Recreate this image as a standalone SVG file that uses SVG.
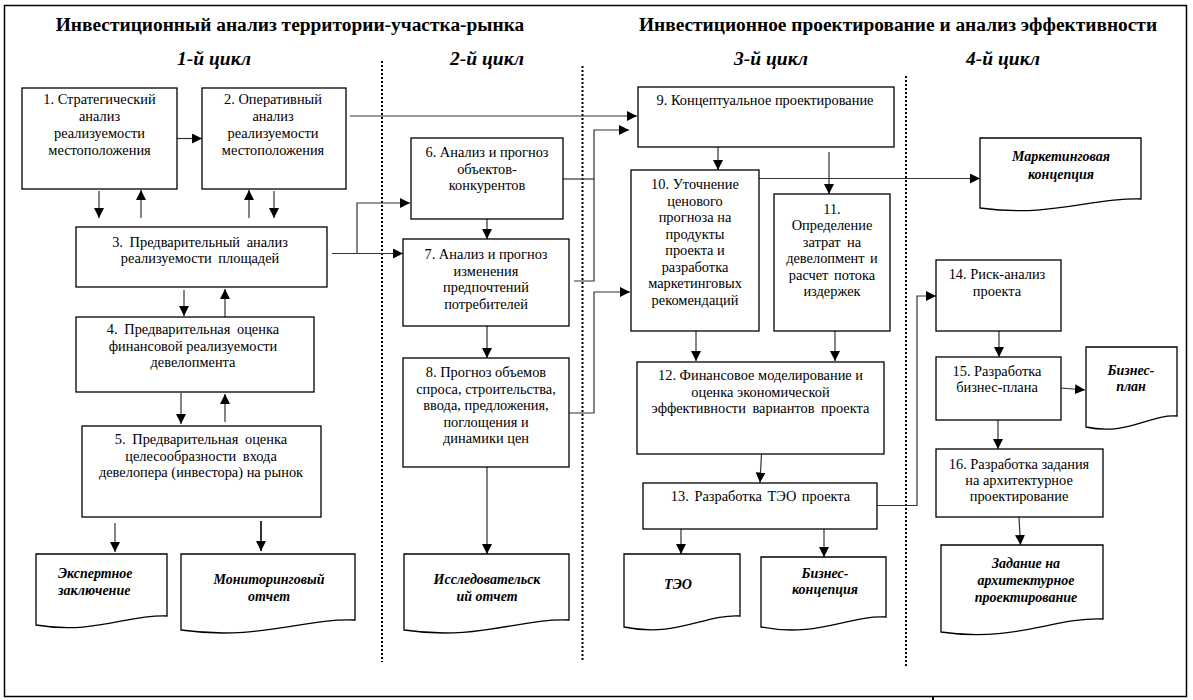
<svg xmlns="http://www.w3.org/2000/svg" width="1193" height="700" viewBox="0 0 1193 700">
<style>
.box{fill:#fff;stroke:#000;stroke-width:1.3}
.doc{fill:#fff;stroke:#000;stroke-width:1.3}
.t{font-family:"Liberation Serif","Times New Roman",serif;font-size:14.4px;text-anchor:middle;fill:#000}
.dt{font-family:"Liberation Serif","Times New Roman",serif;font-size:14px;font-weight:bold;font-style:italic;text-anchor:middle;fill:#000}
.h{font-family:"Liberation Serif","Times New Roman",serif;font-size:19.4px;font-weight:bold;text-anchor:middle;fill:#000}
.cy{font-family:"Liberation Serif","Times New Roman",serif;font-size:19.5px;font-weight:bold;font-style:italic;text-anchor:middle;fill:#000}
.con{fill:none;stroke:#333;stroke-width:1.2}
.ar{marker-end:url(#ah)}
.dot{stroke:#000;stroke-width:2;stroke-dasharray:2 2}
</style>
<defs>
<marker id="ah" markerUnits="userSpaceOnUse" markerWidth="12" markerHeight="10" refX="10" refY="5" orient="auto">
<path d="M0,0 L10,5 L0,10 Z" fill="#000"/>
</marker>
</defs>
<rect x="4.5" y="5.5" width="1182" height="691" fill="#fff" stroke="#000" stroke-width="1.5"/>
<line x1="933" y1="696" x2="933" y2="700" stroke="#000" stroke-width="2"/>
<g id="headers">
<text class="h" x="290" y="31">Инвестиционный анализ территории-участка-рынка</text>
<text class="h" x="898" y="31">Инвестиционное проектирование и анализ эффективности</text>
<text class="cy" x="214" y="65">1-й цикл</text>
<text class="cy" x="487" y="65">2-й цикл</text>
<text class="cy" x="771" y="65">3-й цикл</text>
<text class="cy" x="1003" y="65">4-й цикл</text>
</g>
<g id="dividers">
<line class="dot" x1="382" y1="61" x2="382" y2="662"/>
<line class="dot" x1="582.5" y1="66" x2="582.5" y2="662"/>
<line class="dot" x1="906" y1="76" x2="906" y2="667"/>
</g>
<g id="connectors">
<path class="con ar" d="M177,138.5 H202"/>
<path class="con ar" d="M99,191 V218"/>
<path class="con ar" d="M141,218 V190"/>
<path class="con ar" d="M249,218 V190"/>
<path class="con ar" d="M274,191 V218"/>
<path class="con ar" d="M184,290 V316"/>
<path class="con ar" d="M225,318 V289"/>
<path class="con ar" d="M181,393 V424"/>
<path class="con ar" d="M225,422 V394"/>
<path class="con ar" d="M350,116 H637"/>
<path class="con ar" d="M332,253.5 H403"/>
<path class="con ar" d="M357,253.5 V203 H410"/>
<path class="con ar" d="M487,219 V239"/>
<path class="con ar" d="M487,326 V358"/>
<path class="con" d="M563,179 H594"/>
<path class="con ar" d="M574,281 H594 V130 H629"/>
<path class="con ar" d="M569,413 H594 V292 H630"/>
<path class="con ar" d="M487,467 V554"/>
<path class="con ar" d="M718,147 V170"/>
<path class="con ar" d="M829,152 V194"/>
<path class="con ar" d="M759,178.5 H980"/>
<path class="con ar" d="M696,331 V361"/>
<path class="con ar" d="M835,331 V361"/>
<path class="con ar" d="M761.5,454 L760,482.5"/>
<path class="con ar" d="M681,529 V554"/>
<path class="con ar" d="M824,529 V557"/>
<path class="con ar" d="M877,505.5 H917 V296 H936"/>
<path class="con ar" d="M999,331 V357"/>
<path class="con ar" d="M1061,388 L1085,390"/>
<path class="con ar" d="M998,420 V449"/>
<path class="con ar" d="M1019,517 L1020.5,545"/>
<path class="con ar" d="M115,523 V552"/>
<path class="con ar" d="M261,521 V551" style="stroke-width:2"/>
</g>
<g id="n1"><rect class="box" x="22" y="88" width="155" height="101"/>
<text class="t" x="99.5" y="104">1. Стратегический</text><text class="t" x="99.5" y="121">анализ</text><text class="t" x="99.5" y="138">реализуемости</text><text class="t" x="99.5" y="155">местоположения</text></g>
<g id="n2"><rect class="box" x="202" y="88" width="144" height="101"/>
<text class="t" x="273" y="104">2. Оперативный</text><text class="t" x="273" y="121">анализ</text><text class="t" x="273" y="138">реализуемости</text><text class="t" x="273" y="155">местоположения</text></g>
<g id="n3"><rect class="box" x="76" y="227" width="251" height="60"/>
<text class="t" x="200" y="247" word-spacing="3">3. Предварительный анализ</text><text class="t" x="200" y="263" word-spacing="3">реализуемости площадей</text></g>
<g id="n4"><rect class="box" x="76" y="317" width="238" height="75"/>
<text class="t" x="193" y="334" word-spacing="3">4. Предварительная оценка</text><text class="t" x="193" y="350.5">финансовой реализуемости</text><text class="t" x="193" y="367">девелопмента</text></g>
<g id="n5"><rect class="box" x="82" y="426" width="239" height="91"/>
<text class="t" x="201" y="444" word-spacing="3">5. Предварительная оценка</text><text class="t" x="201" y="461" word-spacing="3">целесообразности входа</text><text class="t" x="201" y="477">девелопера (инвестора) на рынок</text></g>
<g id="n6"><rect class="box" x="411" y="138" width="152" height="81"/>
<text class="t" x="487" y="157">6. Анализ и прогноз</text><text class="t" x="487" y="173.5">объектов-</text><text class="t" x="487" y="190">конкурентов</text></g>
<g id="n7"><rect class="box" x="403" y="239" width="166" height="87"/>
<text class="t" x="486" y="259">7. Анализ и прогноз</text><text class="t" x="486" y="275.5">изменения</text><text class="t" x="486" y="292">предпочтений</text><text class="t" x="486" y="308.5">потребителей</text></g>
<g id="n8"><rect class="box" x="403" y="358" width="166" height="109"/>
<text class="t" x="486" y="377">8. Прогноз объемов</text><text class="t" x="486" y="393.5">спроса, строительства,</text><text class="t" x="486" y="410">ввода, предложения,</text><text class="t" x="486" y="426.5">поглощения и</text><text class="t" x="486" y="443">динамики цен</text></g>
<g id="n9"><rect class="box" x="638" y="87" width="256" height="60"/>
<text class="t" x="765" y="105">9. Концептуальное проектирование</text></g>
<g id="n10"><rect class="box" x="631" y="170" width="128" height="161"/>
<text class="t" x="695" y="189">10. Уточнение</text><text class="t" x="695" y="205.5">ценового</text><text class="t" x="695" y="222">прогноза на</text><text class="t" x="695" y="238.5">продукты</text><text class="t" x="695" y="255">проекта и</text><text class="t" x="695" y="271.5">разработка</text><text class="t" x="695" y="288">маркетинговых</text><text class="t" x="695" y="304.5">рекомендаций</text></g>
<g id="n11"><rect class="box" x="774" y="194" width="116" height="137"/>
<text class="t" x="832" y="213.5">11.</text><text class="t" x="832" y="230">Определение</text><text class="t" x="832" y="246.5" word-spacing="3">затрат на</text><text class="t" x="832" y="263" word-spacing="2">девелопмент и</text><text class="t" x="832" y="279.5" word-spacing="2">расчет потока</text><text class="t" x="832" y="296">издержек</text></g>
<g id="n12"><rect class="box" x="637" y="362" width="247" height="92"/>
<text class="t" x="760.5" y="380">12. Финансовое моделирование и</text><text class="t" x="760.5" y="396.5">оценка экономической</text><text class="t" x="760.5" y="413" word-spacing="3">эффективности вариантов проекта</text></g>
<g id="n13"><rect class="box" x="643" y="483" width="234" height="46"/>
<text class="t" x="760.5" y="501" word-spacing="2">13. Разработка ТЭО проекта</text></g>
<g id="n14"><rect class="box" x="936" y="260" width="125" height="71"/>
<text class="t" x="997" y="279">14. Риск-анализ</text><text class="t" x="997" y="295.5">проекта</text></g>
<g id="n15"><rect class="box" x="936" y="357" width="125" height="63"/>
<text class="t" x="997" y="375.5">15. Разработка</text><text class="t" x="997" y="391.5">бизнес-плана</text></g>
<g id="n16"><rect class="box" x="936" y="449" width="167" height="68"/>
<text class="t" x="1019" y="468.5">16. Разработка задания</text><text class="t" x="1019" y="485">на архитектурное</text><text class="t" x="1019" y="501">проектирование</text></g>
<g id="d-marketing"><path class="doc" d="M980,138 H1141 V199 C1093,197 1052,218 980,208 Z"/>
<text class="dt" x="1061" y="161">Маркетинговая</text><text class="dt" x="1061" y="178.5">концепция</text></g>
<g id="d-bplan"><path class="doc" d="M1086,347 H1177 V416 C1150,414 1127,436 1086,427 Z"/>
<text class="dt" x="1131" y="375">Бизнес-</text><text class="dt" x="1131" y="391">план</text></g>
<g id="d-expert"><path class="doc" d="M36,554 H167 V616 C128,614 95,635 36,625 Z"/>
<text class="dt" x="58" y="578" style="text-anchor:start">Экспертное</text><text class="dt" x="58" y="595" style="text-anchor:start">заключение</text></g>
<g id="d-monitor"><path class="doc" d="M181,554 H355 V620 C303,618 259,641 181,630 Z"/>
<text class="dt" x="269" y="584">Мониторинговый</text><text class="dt" x="269" y="601">отчет</text></g>
<g id="d-research"><path class="doc" d="M404,554 H569 V620 C520,618 478,641 404,630 Z"/>
<text class="dt" x="487" y="584">Исследовательск</text><text class="dt" x="487" y="601">ий отчет</text></g>
<g id="d-teo"><path class="doc" d="M624,554 H740 V616 C705,614 676,638 624,627 Z"/>
<text class="dt" x="678" y="589">ТЭО</text></g>
<g id="d-bconcept"><path class="doc" d="M761,557 H886 V617 C849,615 817,638 761,627 Z"/>
<text class="dt" x="825" y="577.5">Бизнес-</text><text class="dt" x="825" y="594">концепция</text></g>
<g id="d-task"><path class="doc" d="M941,545 H1103 V619 C1054,617 1014,643 941,632 Z"/>
<text class="dt" x="1026" y="567.5">Задание на</text><text class="dt" x="1026" y="584.5">архитектурное</text><text class="dt" x="1026" y="601.5">проектирование</text></g>
</svg>
